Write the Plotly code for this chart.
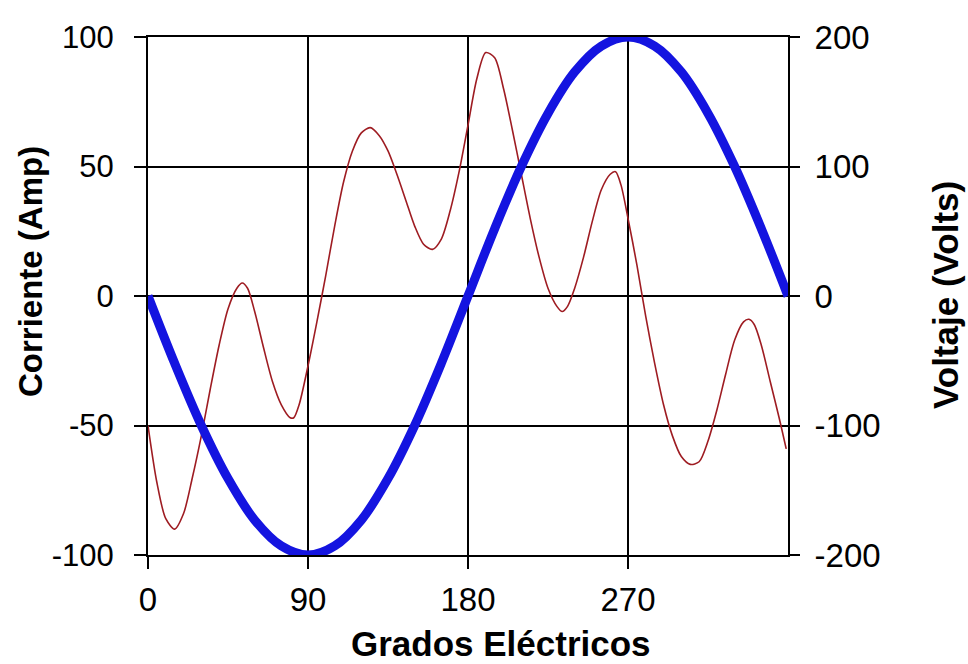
import plotly.graph_objects as go

# Electrical degrees over one cycle
grados_corriente = [0, 5, 10, 15, 20, 25, 30, 35, 40, 45, 50, 53, 56, 60, 65, 70, 75, 80, 82,
                    85, 90, 95, 100, 105, 110, 115, 120, 125, 130, 135, 140, 145, 150, 155,
                    160, 165, 170, 175, 180, 185, 190, 195, 200, 205, 210, 215, 220, 225,
                    230, 233, 236, 240, 245, 250, 255, 260, 263, 266, 270, 275, 280, 285,
                    290, 295, 300, 305, 310, 315, 320, 325, 330, 335, 338, 341, 345, 350,
                    355, 359]
# Distorted current waveform (Amp)
corriente = [-50, -72, -86, -90, -84, -70, -54, -36, -19, -5, 3, 5, 3, -6, -20, -33, -42, -47, -47,
             -42, -27, -10, 8, 27, 44, 56, 63, 65, 62, 56, 47, 37, 27, 20,
             18, 22, 33, 48, 66, 84, 94, 92, 80, 64, 47, 30, 15, 3,
             -4, -6, -4, 3, 15, 29, 41, 47, 48, 43, 30, 12, -8, -26,
             -42, -54, -62, -65, -64, -56, -44, -30, -17, -10, -9, -11, -19, -33,
             -47, -59]

# Supply voltage (Volts)
grados_voltaje = [0, 15, 30, 45, 60, 75, 90, 105, 120, 135, 150, 165, 180,
                  195, 210, 225, 240, 255, 270, 285, 300, 315, 330, 345, 360]
voltaje = [0, -52, -100, -141, -173, -193, -200, -193, -173, -141, -100, -52, 0,
           52, 100, 141, 173, 193, 200, 193, 173, 141, 100, 52, 0]

x_ticks = [0, 90, 180, 270]
y_ticks = [-100, -50, 0, 50, 100]
y2_ticks = [-200, -100, 0, 100, 200]

fig = go.Figure()
fig.add_trace(go.Scatter(x=grados_corriente, y=corriente, mode="lines",
                         line=dict(color="#9e1c22", width=1.6, shape="spline", smoothing=0.8),
                         name="Corriente"))
fig.add_trace(go.Scatter(x=grados_voltaje, y=voltaje, mode="lines", yaxis="y2",
                         line=dict(color="#1414e0", width=9, shape="spline", smoothing=1.0),
                         name="Voltaje"))

fig.update_layout(
    width=968, height=664,
    margin=dict(l=148, r=180, t=37, b=109),
    paper_bgcolor="white", plot_bgcolor="white",
    showlegend=False,
    xaxis=dict(range=[0, 360], tickvals=x_ticks, ticktext=[str(v) for v in x_ticks],
               showgrid=True, gridcolor="black", gridwidth=2,
               showline=True, linecolor="black", linewidth=2, mirror=True,
               ticks="outside", ticklen=12, tickwidth=2, tickcolor="black",
               ticklabelstandoff=2, zeroline=False,
               tickfont=dict(family="Liberation Sans Narrow, Arial Narrow, Liberation Sans, Arial",
                             size=33, color="black")),
    yaxis=dict(range=[-100, 100], tickvals=y_ticks, ticktext=[str(v) for v in y_ticks],
               showgrid=True, gridcolor="black", gridwidth=2,
               showline=True, linecolor="black", linewidth=2,
               ticks="outside", ticklen=12, tickwidth=2, tickcolor="black",
               ticklabelstandoff=14, zeroline=False,
               tickfont=dict(family="Liberation Sans, Arial", size=31, color="black")),
    yaxis2=dict(range=[-200, 200], tickvals=y2_ticks, ticktext=[str(v) for v in y2_ticks],
                overlaying="y", side="right",
                showgrid=False, showline=True, linecolor="black", linewidth=2,
                ticks="outside", ticklen=10, tickwidth=2, tickcolor="black",
                ticklabelstandoff=8, zeroline=False,
                tickfont=dict(family="Liberation Sans, Arial", size=33, color="black")),
    annotations=[
        dict(text="<b>Grados Eléctricos</b>", xref="paper", yref="paper",
             x=(501 - 148) / 640, y=-(643 - 555) / 518, xanchor="center", yanchor="middle",
             showarrow=False, font=dict(family="Liberation Sans, Arial", size=35, color="black")),
        dict(text="<b>Corriente (Amp)</b>", xref="paper", yref="paper",
             x=-(148 - 30) / 640, y=(555 - 272) / 518, xanchor="center", yanchor="middle",
             textangle=-90, showarrow=False,
             font=dict(family="Liberation Sans, Arial", size=33, color="black")),
        dict(text="<b>Voltaje (Volts)</b>", xref="paper", yref="paper",
             x=(945 - 148) / 640, y=(555 - 295) / 518, xanchor="center", yanchor="middle",
             textangle=-90, showarrow=False,
             font=dict(family="Liberation Sans, Arial", size=35, color="black")),
    ],
)

fig.write_html("out.html")
